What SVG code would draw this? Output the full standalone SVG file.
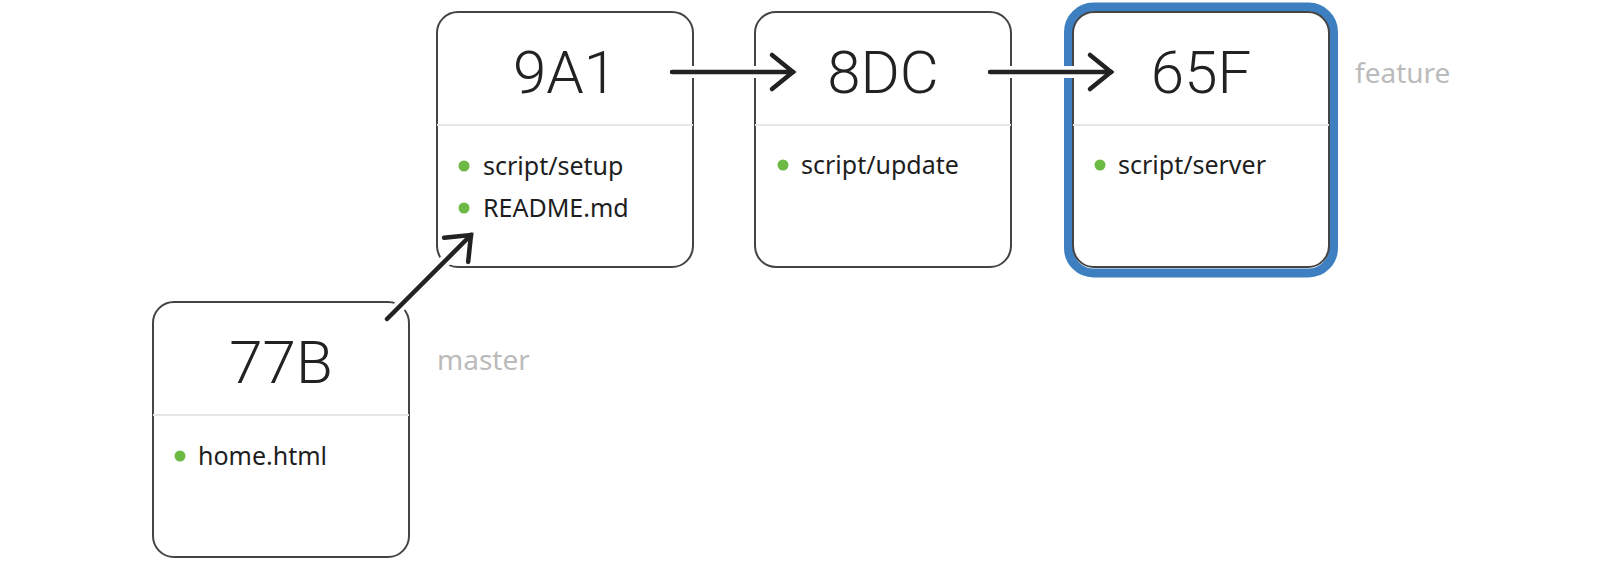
<svg xmlns="http://www.w3.org/2000/svg" width="1600" height="573" viewBox="0 0 1600 573">
  <style>
    .box { fill: #ffffff; stroke: #444444; stroke-width: 2; }
    .div { stroke: #e6e6e6; stroke-width: 2; }
    .title { font-family: Roboto, "Liberation Sans", sans-serif; font-weight: 300; font-size: 60px; fill: #222222; text-anchor: middle; }
    .item { font-family: "Noto Sans", "Open Sans", sans-serif; font-size: 25px; fill: #1e1e1e; }
    .dot { fill: #6cb944; }
    .label { font-family: "Noto Sans", "Open Sans", sans-serif; font-size: 28px; fill: #bbbbbb; }
    .halo { stroke: #ffffff; stroke-width: 12; stroke-linecap: butt; fill: none; }
    .edge { stroke: #222222; stroke-width: 4.5; stroke-linecap: round; fill: none; marker-end: url(#chev); }
  </style>
  <defs>
    <marker id="chev" markerUnits="userSpaceOnUse" viewBox="-30 -25 40 50" markerWidth="40" markerHeight="50" refX="0" refY="0" orient="auto" overflow="visible">
      <path d="M-21,-17 L0,0 L-21,17" fill="none" stroke="#222222" stroke-width="4.5" stroke-linecap="round" stroke-linejoin="miter"/>
    </marker>
  </defs>

  <g id="node-77B">
    <rect class="box" x="153" y="302" width="256" height="255" rx="21"/>
    <line class="div" x1="153" y1="415" x2="409" y2="415"/>
    <text class="title" x="281" y="383">77B</text>
    <circle class="dot" cx="180" cy="456" r="5.5"/>
    <text class="item" x="198" y="465">home.html</text>
  </g>

  <g id="node-9A1">
    <rect class="box" x="437" y="12" width="256" height="255" rx="21"/>
    <line class="div" x1="437" y1="125" x2="693" y2="125"/>
    <text class="title" x="565" y="93">9A1</text>
    <circle class="dot" cx="464" cy="166" r="5.5"/>
    <text class="item" x="483" y="175">script/setup</text>
    <circle class="dot" cx="464" cy="208" r="5.5"/>
    <text class="item" x="483" y="217">README.md</text>
  </g>

  <g id="node-8DC">
    <rect class="box" x="755" y="12" width="256" height="255" rx="21"/>
    <line class="div" x1="755" y1="125" x2="1011" y2="125"/>
    <text class="title" x="883" y="93">8DC</text>
    <circle class="dot" cx="783" cy="165" r="5.5"/>
    <text class="item" x="801" y="174">script/update</text>
  </g>

  <g id="node-65F">
    <rect x="1068.5" y="7" width="265" height="266" rx="25" fill="none" stroke="#3d7fc1" stroke-width="9"/>
    <rect class="box" x="1073" y="12" width="256" height="255" rx="21"/>
    <line class="div" x1="1073" y1="125" x2="1329" y2="125"/>
    <text class="title" x="1201" y="93">65F</text>
    <circle class="dot" cx="1100" cy="165" r="5.5"/>
    <text class="item" x="1118" y="174">script/server</text>
  </g>

  <g id="label-master">
    <text class="label" x="437" y="370">master</text>
  </g>
  <g id="label-feature">
    <text class="label" x="1355" y="83">feature</text>
  </g>

  <g id="connectors">
    <line class="halo" x1="672" y1="72" x2="790" y2="72"/>
    <line class="edge" x1="672" y1="72" x2="793" y2="72"/>
    <line class="halo" x1="990" y1="72" x2="1108" y2="72"/>
    <line class="edge" x1="990" y1="72" x2="1111" y2="72"/>
    <line class="halo" x1="387" y1="319" x2="469" y2="237"/>
    <line class="edge" x1="387" y1="319" x2="471" y2="235"/>
  </g>
</svg>
